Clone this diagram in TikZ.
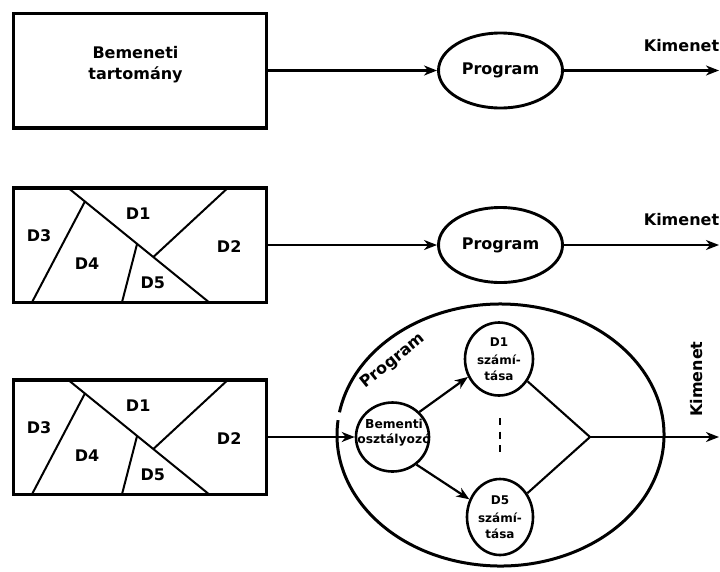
\documentclass[tikz,border=0pt]{standalone}
\usepackage{fontspec}
\setmainfont{DejaVu Sans}
\usetikzlibrary{arrows.meta,shapes.geometric,calc}

\tikzset{
  lbl/.style={font=\bfseries\fontsize{16}{21}\selectfont, inner sep=0pt, align=center},
  smalllbl/.style={font=\bfseries\fontsize{12.3}{15}\selectfont, inner sep=0pt, align=center},
  domainbox/.style={draw, line width=3.5pt, minimum width=253pt, minimum height=114.5pt,
    inner sep=0pt, outer sep=0pt},
  progell/.style={ellipse, draw, line width=2.9pt, minimum width=124pt, minimum height=75pt,
    inner sep=0pt, font=\bfseries\fontsize{16}{21}\selectfont},
  subell/.style={ellipse, draw, line width=2.6pt, inner sep=0pt, align=center,
    font=\bfseries\fontsize{12}{15.5}\selectfont},
  flow/.style={line width=2.2pt, -{Stealth[length=13pt,width=10pt,inset=4pt]}},
  plainline/.style={line width=2.1pt},
  cut/.style={line width=2pt},
  ring/.style={line width=3pt},
  % the five sub-domains of the input rectangle, origin at its top-left corner
  partition/.pic={
    \draw[cut] (54.5,0) -- (195.5,114.5);
    \draw[cut] ($(54.5,0)!0.12!(195.5,114.5)$) -- (18.5,114.5);
    \draw[cut] (214.5,0) -- ($(54.5,0)!0.605!(195.5,114.5)$);
    \draw[cut] ($(54.5,0)!0.49!(195.5,114.5)$) -- (108.5,114.5);
    \node[lbl] at (124.7,26.3) {D1};
    \node[lbl] at (215.7,58.6) {D2};
    \node[lbl] at (25.5,48.2) {D3};
    \node[lbl] at (73.6,76.3) {D4};
    \node[lbl] at (139.4,95) {D5};
  }
}

\begin{document}
\begin{tikzpicture}[x=1pt,y=-1pt]
\useasboundingbox (0,0) rectangle (720,571);

% ---- row 1: whole input domain ----
\node[domainbox] (in1) at (140,70.5) {};
\node[lbl] (in1txt) at (135.5,64.5) {Bemeneti\\tartomány};
\node[progell] (prog1) at (500.5,70.5) {Program};
\coordinate (out1) at (719,70.5);
\node[lbl] (kim1) at (681.5,46) {Kimenet};
\draw[flow] (in1.east) -- (prog1.west);
\draw[flow] (prog1.east) -- (out1);

% ---- row 2: partitioned domain ----
\node[domainbox] (in2) at (140,245) {};
\pic at (in2.north west) {partition};
\node[progell] (prog2) at (500.5,245) {Program};
\coordinate (out2) at (719,245);
\node[lbl] (kim2) at (681.5,219.5) {Kimenet};
\draw[flow] (in2.east) -- (prog2.west);
\draw[flow] (prog2.east) -- (out2);

% ---- row 3: program split by sub-domain ----
\node[domainbox] (in3) at (140,437) {};
\pic at (in3.north west) {partition};

\node[ellipse, minimum width=327pt, minimum height=262pt, inner sep=0pt] (prog3) at (500.5,435) {};
\draw[ring] ([shift={(190:163.5 and 131)}]prog3.center)
  arc[start angle=190, end angle=546.5, x radius=163.5, y radius=131];
\node[lbl, rotate=39] (prog3txt) at (393,361) {Program};

\node[subell, minimum width=73pt, minimum height=69pt] (bem) at (392.5,437) {};
\node[smalllbl] (bemtxt) at (394,432.7) {Bementi\\osztályozó};
\node[subell, minimum width=68pt, minimum height=73pt] (d1) at (499,359) {D1\\[3pt]számí-\\tása};
\node[subell, minimum width=66pt, minimum height=76pt] (d5) at (500,517) {D5\\[3pt]számí-\\tása};

\coordinate (dots1) at (500,418);
\coordinate (dots2) at (500,452);
\draw[line width=2.2pt, dash pattern=on 7pt off 6.5pt] (dots1) -- (dots2);

\coordinate (join) at (590,437);
\coordinate (out3) at (719,437);
\node[lbl, rotate=90] (kim3) at (697,379) {Kimenet};

\draw[flow] (in3.east) -- (bem.west);
\draw[flow] (bem.43) -- (d1.210);
\draw[flow] (bem.-49) -- (d5.150);
\draw[plainline] (d1.-38) -- (join);
\draw[plainline] (d5.41) -- (join);
\draw[flow] (join) -- (out3);
\end{tikzpicture}
\end{document}
